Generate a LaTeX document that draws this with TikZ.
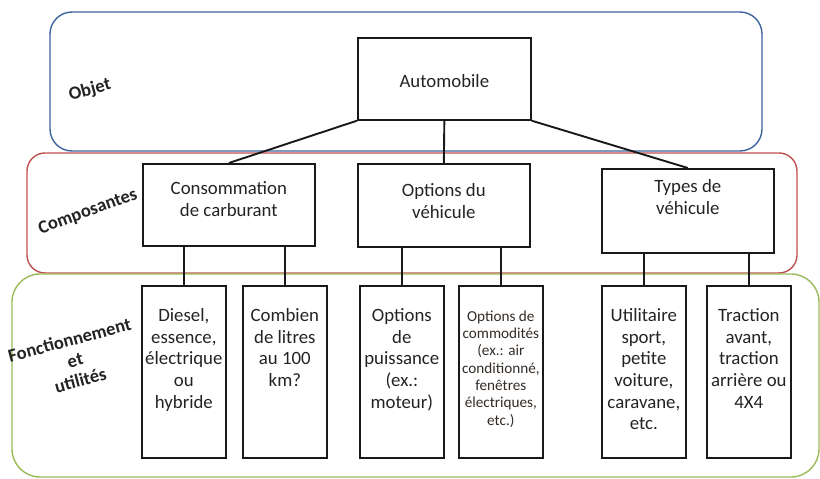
\documentclass[tikz,border=0pt]{standalone}
\usepackage{fontspec}
\setmainfont{Carlito}
\definecolor{cblue}{RGB}{62,100,160}
\definecolor{cred}{RGB}{192,80,77}
\definecolor{cgreen}{RGB}{155,187,89}
\definecolor{txt}{RGB}{35,35,35}
\begin{document}
\begin{tikzpicture}[x=1pt,y=-1pt,
  frame/.style={line width=1.4pt},
  box/.style={draw=black!90, line width=1.7pt, inner sep=0pt, anchor=north west},
  hbox/.style={box, minimum width=172pt, minimum height=82pt},
  bbox/.style={box, minimum width=84pt, minimum height=172pt},
  conn/.style={line width=1.9pt, black!90},
  tx/.style={font=\fontsize{18.8}{21.7}\selectfont, text=txt, align=center, inner sep=0pt, anchor=north},
  smalltx/.style={font=\fontsize{15.2}{17.3}\selectfont, text=txt!90!brown, align=center, inner sep=0pt, anchor=north},
  lab/.style={font=\bfseries\fontsize{18.5}{21}\selectfont, text=txt, align=center, inner sep=0pt}
]
\useasboundingbox (0,0) rectangle (820,479);
% layer frames
\draw[frame, cblue, rounded corners=22pt] (50,12) rectangle (762,151);
\draw[frame, cred, rounded corners=18pt] (27,153) rectangle (797,273);
\draw[frame, cgreen, rounded corners=28pt] (12,274) rectangle (819,477);
% layer labels
\node[lab, rotate=15] (lobj) at (90,90) {Objet};
\node[lab, rotate=20] (lcomp) at (88,212) {Composantes};
\node[lab, rotate=15] (lfonc) at (75,360) {Fonctionnement\\et\\utilités};
% boxes
\node[box, minimum width=173pt, minimum height=82pt] (auto) at (357,37) {};
\node[hbox] (cons) at (142,163) {};
\node[hbox, minimum height=83pt] (opt) at (357,163) {};
\node[hbox, minimum height=84pt] (types) at (601,168) {};
\node[bbox] (d1) at (141,285) {};
\node[bbox] (d2) at (242,285) {};
\node[bbox] (d3) at (359,285) {};
\node[bbox] (d4) at (458,285) {};
\node[bbox] (d5) at (601,285) {};
\node[bbox] (d6) at (706,285) {};
% texts
\node[tx, anchor=center] (tauto) at ([yshift=-2pt]auto.center) {Automobile};
\node[tx] (tcons) at ([yshift=-16pt]cons.north) {\strut Consommation\\de carburant};
\node[tx] (topt) at ([yshift=-18pt]opt.north) {\strut Options du\\véhicule};
\node[tx] (ttypes) at ([yshift=-9pt]types.north) {\strut Types de\\véhicule};
\node[tx] (t1) at ([yshift=-21pt]d1.north) {\strut Diesel,\\essence,\\électrique\\ou\\hybride};
\node[tx] (t2) at ([yshift=-21pt]d2.north) {\strut Combien\\de litres\\au 100\\km?};
\node[tx] (t3) at ([yshift=-21pt]d3.north) {\strut Options\\de\\puissance\\(ex.:\\moteur)};
\node[smalltx] (t4) at ([yshift=-24pt]d4.north) {\strut Options de\\commodités\\(ex.: air\\conditionné,\\fenêtres\\électriques,\\etc.)};
\node[tx] (t5) at ([yshift=-21pt]d5.north) {\strut Utilitaire\\sport,\\petite\\voiture,\\caravane,\\etc.};
\node[tx] (t6) at ([yshift=-21pt]d6.north) {\strut Traction\\avant,\\traction\\arrière ou\\4X4};
% connectors
\draw[conn] (auto.south west) -- (cons.north);
\draw[conn] (auto.south) -- (opt.north);
\draw[conn] (auto.south east) -- (types.north);
\draw[conn] (cons.south -| d1.north) -- (d1.north);
\draw[conn] (cons.south -| d2.north) -- (d2.north);
\draw[conn] (opt.south -| d3.north) -- (d3.north);
\draw[conn] (opt.south -| d4.north) -- (d4.north);
\draw[conn] (types.south -| d5.north) -- (d5.north);
\draw[conn] (types.south -| d6.north) -- (d6.north);
\end{tikzpicture}
\end{document}
